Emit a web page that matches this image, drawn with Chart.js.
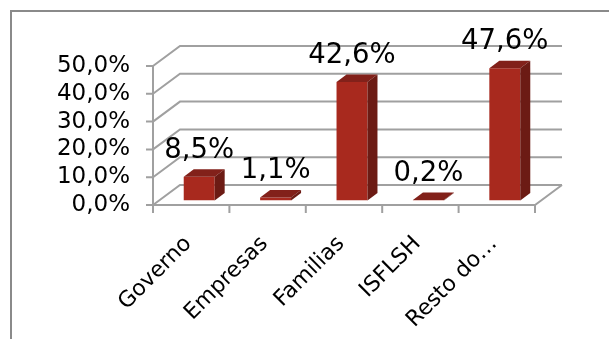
<!DOCTYPE html>
<html>
<head>
<meta charset="utf-8">
<script src="https://cdn.jsdelivr.net/npm/chart.js@4"></script>
<style>
  html, body { margin: 0; padding: 0; background: #fff; }
  canvas { display: block; }
</style>
</head>
<body>
<canvas id="myChart" width="609" height="339"></canvas>
<script>
const categories = ['Governo', 'Empresas', 'Familias', 'ISFLSH', 'Resto do…'];
const shares = [8.5, 1.1, 42.6, 0.2, 47.6];
const yMin = 0, yMax = 50, yStep = 10;

const frontColor = '#a8291e';
const topColor = '#82211a';
const sideColor = '#6c1b14';
const gridColor = '#a0a0a0';

// fake 3d: back wall offset, bar plane offset, bar depth
const wallDx = 27, wallDy = -20;
const barDx = 8, barDy = -4.5;
const depthX = 10, depthY = -7.5;

function pct(v) { return v.toFixed(1).replace('.', ',') + '%'; }

const frame3d = {
  id: 'frame3d',
  beforeDraw(chart) {
    const ctx = chart.ctx;
    ctx.save();
    ctx.strokeStyle = '#8a8a8a';
    ctx.lineWidth = 2;
    ctx.beginPath();
    ctx.moveTo(11, 339); ctx.lineTo(11, 11); ctx.lineTo(609, 11);
    ctx.stroke();
    ctx.restore();
  },
  beforeDatasetsDraw(chart) {
    const ctx = chart.ctx, x = chart.scales.x, y = chart.scales.y;
    const l = x.left, r = x.right;
    const p0 = y.getPixelForValue(yMin);
    ctx.save();
    ctx.strokeStyle = gridColor;
    ctx.lineWidth = 2;
    ctx.beginPath();
    for (let v = yMin; v <= yMax; v += yStep) {
      const py = y.getPixelForValue(v);
      ctx.moveTo(l, py); ctx.lineTo(l + wallDx, py + wallDy); ctx.lineTo(r + wallDx, py + wallDy);
      ctx.moveTo(l - 7, py); ctx.lineTo(l, py);
    }
    // floor front and right edge
    ctx.moveTo(l, p0); ctx.lineTo(r, p0); ctx.lineTo(r + wallDx, p0 + wallDy);
    // front axis
    ctx.moveTo(l, y.getPixelForValue(yMax)); ctx.lineTo(l, p0 + 8);
    for (let i = 0; i <= categories.length; i++) {
      const px = l + (r - l) * i / categories.length;
      ctx.moveTo(px, p0); ctx.lineTo(px, p0 + 8);
    }
    ctx.stroke();
    ctx.restore();
    ctx.save();
    ctx.translate(barDx, barDy);
  },
  afterDatasetsDraw(chart) {
    const ctx = chart.ctx;
    const bars = chart.getDatasetMeta(0).data;
    bars.forEach(bar => {
      const { x, y, base, width } = bar.getProps(['x', 'y', 'base', 'width'], true);
      const x0 = x - width / 2, x1 = x + width / 2;
      ctx.fillStyle = topColor;
      ctx.beginPath();
      ctx.moveTo(x0, y); ctx.lineTo(x0 + depthX, y + depthY);
      ctx.lineTo(x1 + depthX, y + depthY); ctx.lineTo(x1, y);
      ctx.closePath(); ctx.fill();
      ctx.fillStyle = sideColor;
      ctx.beginPath();
      ctx.moveTo(x1, y); ctx.lineTo(x1 + depthX, y + depthY);
      ctx.lineTo(x1 + depthX, base + depthY); ctx.lineTo(x1, base);
      ctx.closePath(); ctx.fill();
    });
    ctx.fillStyle = '#000';
    ctx.font = '27.5px "DejaVu Sans"';
    ctx.textAlign = 'center';
    ctx.textBaseline = 'alphabetic';
    bars.forEach((bar, i) => {
      const { x, y } = bar.getProps(['x', 'y'], true);
      ctx.fillText(pct(shares[i]), x, y - 19);
    });
    ctx.restore();
  }
};

const ctx = document.getElementById('myChart').getContext('2d');
new Chart(ctx, {
  type: 'bar',
  data: {
    labels: categories,
    datasets: [{
      data: shares,
      backgroundColor: frontColor,
      borderWidth: 0,
      barPercentage: 0.405,
      categoryPercentage: 1
    }]
  },
  options: {
    responsive: false,
    animation: false,
    devicePixelRatio: 1,
    layout: { padding: { top: 66, right: 74, left: 0, bottom: 0 } },
    plugins: { legend: { display: false }, tooltip: { enabled: false } },
    scales: {
      x: {
        grid: { display: false, drawTicks: false },
        border: { display: false },
        ticks: {
          autoSkip: false, maxRotation: 45, minRotation: 45,
          padding: 26, labelOffset: -3, color: '#000',
          font: { family: 'DejaVu Sans', size: 22 }
        },
        afterFit(s) { s.height = 134; }
      },
      y: {
        min: yMin, max: yMax,
        grid: { display: false, drawTicks: false },
        border: { display: false },
        ticks: {
          autoSkip: false, stepSize: yStep, padding: 23, color: '#000',
          font: { family: 'DejaVu Sans', size: 23 },
          callback: v => pct(v)
        },
        afterFit(s) { s.width = 153; }
      }
    }
  },
  plugins: [frame3d]
});
</script>
</body>
</html>
